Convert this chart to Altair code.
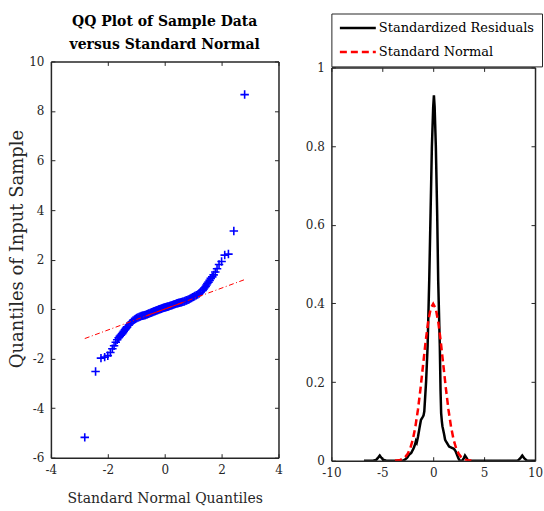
import altair as alt
import pandas as pd

# ---------------- data ----------------
qq_theoretical = [
    -2.81, -2.43, -2.24, -2.11, -2.00, -1.91, -1.84, -1.78, -1.72, -1.67,
    -1.62, -1.58, -1.54, -1.50, -1.47, -1.44, -1.40, -1.37, -1.34, -1.32,
    -1.26, -1.21, -1.16, -1.11, -1.06, -1.02,
    -0.98, -0.94, -0.90, -0.86, -0.82,
    -0.78, -0.75, -0.71, -0.68, -0.64, -0.61, -0.58, -0.55,
    -0.51, -0.48, -0.45, -0.42, -0.39, -0.36, -0.33,
    -0.30, -0.27, -0.24, -0.21, -0.18, -0.15, -0.12, -0.09, -0.06, -0.03,
    0.00,
    0.03, 0.06, 0.09, 0.12, 0.15, 0.18, 0.21, 0.24, 0.27, 0.30,
    0.33, 0.36, 0.39, 0.42, 0.45, 0.48, 0.51,
    0.55, 0.58, 0.61, 0.64, 0.68, 0.71, 0.75, 0.78,
    0.82, 0.86, 0.90, 0.94, 0.98,
    1.02, 1.06, 1.11, 1.16, 1.21, 1.26,
    1.32, 1.34, 1.37, 1.40, 1.44, 1.47, 1.50, 1.54, 1.58, 1.62,
    1.67, 1.72, 1.78, 1.84, 1.91, 2.00, 2.11, 2.24, 2.43, 2.81,
]
qq_sample = [
    -5.18, -2.52, -1.98, -1.94, -1.88, -1.75, -1.60, -1.48, -1.34, -1.24,
    -1.16, -1.10, -1.05, -1.00, -0.95, -0.90, -0.84, -0.79, -0.75, -0.72,
    -0.64, -0.57, -0.51, -0.46, -0.42, -0.39,
    -0.36, -0.34, -0.32, -0.30, -0.28,
    -0.27, -0.26, -0.25, -0.24, -0.22, -0.21, -0.19, -0.18,
    -0.16, -0.15, -0.13, -0.12, -0.10, -0.09, -0.08,
    -0.06, -0.05, -0.04, -0.02, -0.01, 0.00, 0.01, 0.03, 0.04, 0.05,
    0.06,
    0.07, 0.08, 0.09, 0.10, 0.11, 0.13, 0.14, 0.15, 0.16, 0.18,
    0.19, 0.20, 0.21, 0.23, 0.24, 0.25, 0.26,
    0.27, 0.28, 0.29, 0.30, 0.31, 0.33, 0.35, 0.36,
    0.38, 0.40, 0.43, 0.45, 0.48,
    0.50, 0.53, 0.56, 0.59, 0.63, 0.68,
    0.74, 0.77, 0.81, 0.86, 0.91, 0.97, 1.03, 1.09, 1.16, 1.24,
    1.30, 1.38, 1.50, 1.63, 1.80, 1.92, 2.18, 2.22, 3.15, 8.66,
]
ref_x = [-2.81, 2.81]
ref_y = [-1.19, 1.19]
quart_x = [-0.67, 0.67]
quart_y = [-0.28, 0.28]

kde_x = [-6.8, -5.9, -5.6, -5.4, -5.25, -5.1, -4.9, -4.6, -3.0, -2.75,
         -2.55, -2.37, -2.15, -1.95, -1.8, -1.7, -1.62, -1.5, -1.4, -1.3,
         -1.2, -1.05, -0.95, -0.876, -0.7, -0.55, -0.39, -0.26, -0.13, 0.0,
         0.07, 0.14, 0.26, 0.39, 0.49, 0.65, 0.72, 0.78, 0.85, 0.91,
         1.05, 1.17, 1.35, 1.56, 1.8, 2.04, 2.2, 2.46, 2.6, 2.85,
         3.0, 3.12, 3.25, 3.44, 3.7, 8.3, 8.55, 8.75, 8.95, 9.2, 10.0]
kde_y = [0.0, 0.0, 0.002, 0.008, 0.013, 0.008, 0.002, 0.0, 0.0, 0.003,
         0.008, 0.015, 0.02, 0.03, 0.04, 0.05, 0.046, 0.06, 0.075, 0.09,
         0.104, 0.11, 0.115, 0.125, 0.2, 0.29, 0.459, 0.628, 0.798, 0.9,
         0.929, 0.9, 0.798, 0.628, 0.459, 0.29, 0.18, 0.121, 0.1, 0.087,
         0.07, 0.053, 0.045, 0.036, 0.033, 0.03, 0.024, 0.007, 0.0, 0.0,
         0.006, 0.013, 0.008, 0.0, 0.0, 0.0, 0.006, 0.013, 0.006, 0.0, 0.0]

norm_x = [-3.75, -3.5, -3.25, -3.0, -2.75, -2.5, -2.25, -2.0, -1.75, -1.5,
          -1.25, -1.0, -0.75, -0.5, -0.25, 0.0, 0.25, 0.5, 0.75, 1.0,
          1.25, 1.5, 1.75, 2.0, 2.25, 2.5, 2.75, 3.0, 3.25, 3.5, 3.75]
norm_y = [0.0004, 0.0009, 0.0020, 0.0044, 0.0091, 0.0175, 0.0317, 0.0540, 0.0863, 0.1295,
          0.1826, 0.2420, 0.3011, 0.3521, 0.3867, 0.3989, 0.3867, 0.3521, 0.3011, 0.2420,
          0.1826, 0.1295, 0.0863, 0.0540, 0.0317, 0.0175, 0.0091, 0.0044, 0.0020, 0.0009, 0.0004]

series_names = ["Standardized Residuals", "Standard Normal"]
x1_ticks = [-4, -2, 0, 2, 4]
y1_ticks = [-6, -4, -2, 0, 2, 4, 6, 8, 10]
x2_ticks = [-10, -5, 0, 5, 10]
y2_ticks = [0, 0.2, 0.4, 0.6, 0.8, 1]

# ---------------- styling ----------------
FONT = "DejaVu Serif"
AX = "#262626"
W1, H1 = 228, 397
W2, H2 = 204, 400   # right view; its y range leaves a 6px strip at the top
TOP2 = 6


def main_axis(title, vals, orient, **kw):
    return alt.Axis(orient=orient, title=title, values=vals, ticks=False, domain=True,
                    domainColor=AX, domainWidth=1.5,
                    grid=False, labelFont=FONT, labelFontSize=12, labelColor=AX,
                    labelPadding=7, labelExpr="'' + datum.value", labelFlush=False,
                    labelOverlap=False,
                    titleFont=FONT, titleFontWeight="normal", titleColor=AX, **kw)


def tick_axis(orient, offset, vals, domain):
    return alt.Axis(orient=orient, offset=offset, values=vals, labels=False, ticks=True,
                    tickSize=4, tickColor=AX, tickWidth=1, domain=domain,
                    domainColor=AX, domainWidth=1.5, grid=False, title=None)


# ---------------- left: QQ plot ----------------
xs1 = alt.Scale(domain=[-4, 4], nice=False, zero=False)
ys1 = alt.Scale(domain=[-6, 10], nice=False, zero=False)
qq_df = pd.DataFrame({"x": qq_theoretical, "y": qq_sample})
ref_df = pd.DataFrame({"x": ref_x, "y": ref_y})
quart_df = pd.DataFrame({"x": quart_x, "y": quart_y})

x1_axis = main_axis("Standard Normal Quantiles", x1_ticks, "bottom",
                    titleFontSize=14, titleX=W1 / 2, titleY=40.5,
                    titleBaseline="middle", titleAlign="center")
y1_axis = main_axis("Quantiles of Input Sample", y1_ticks, "left",
                    titleFontSize=18, titleX=-33.5, titleY=187.5, titleAngle=270,
                    titleBaseline="middle", titleAlign="center")

pts = alt.Chart(qq_df).mark_point(
    shape="M-1,0L1,0M0,-1L0,1", size=72, filled=False, color="#0000ff",
    strokeWidth=1.6, opacity=1
).encode(
    x=alt.X("x:Q", scale=xs1, axis=x1_axis),
    y=alt.Y("y:Q", scale=ys1, axis=y1_axis),
)
ref = alt.Chart(ref_df).mark_line(color="#ff0000", strokeWidth=1, strokeDash=[5, 2.5, 1, 2.5]).encode(
    x=alt.X("x:Q", scale=xs1, axis=None), y=alt.Y("y:Q", scale=ys1, axis=None))
quart = alt.Chart(quart_df).mark_line(color="#ff0000", strokeWidth=1).encode(
    x=alt.X("x:Q", scale=xs1, axis=None), y=alt.Y("y:Q", scale=ys1, axis=None))
tk1 = alt.Chart(quart_df).mark_point(opacity=0).encode(
    x=alt.X("x:Q", scale=xs1, axis=tick_axis("top", -H1, x1_ticks, False)),
    y=alt.Y("y:Q", scale=ys1, axis=tick_axis("right", -W1, y1_ticks, False)))
tk2 = alt.Chart(quart_df).mark_point(opacity=0).encode(
    x=alt.X("x:Q", scale=xs1, axis=tick_axis("bottom", -H1, x1_ticks, True)),
    y=alt.Y("y:Q", scale=ys1, axis=tick_axis("left", -W1, y1_ticks, True)))

left = alt.layer(pts, ref, quart, tk1, tk2).resolve_scale(
    x="independent", y="independent"
).properties(
    width=W1, height=H1,
    title=alt.TitleParams(["QQ Plot of Sample Data", "versus Standard Normal"],
                          font=FONT, fontSize=14, fontWeight="bold", color="#000000",
                          anchor="middle", frame="group", offset=3, lineHeight=23),
)

# ---------------- right: densities ----------------
xs2 = alt.Scale(domain=[-10, 10], nice=False, zero=False)
ys2 = alt.Scale(domain=[0, 1], nice=False, zero=False, range=[H2, TOP2])
dens_df = pd.concat([
    pd.DataFrame({"series": series_names[0], "x": kde_x, "y": kde_y}),
    pd.DataFrame({"series": series_names[1], "x": norm_x, "y": norm_y}),
], ignore_index=True)

leg = alt.Legend(orient="none", legendX=0, legendY=-48, direction="vertical", title=None,
                 strokeColor=AX, fillColor="#ffffff", padding=7, cornerRadius=0,
                 symbolType="M-1,0L5,0", symbolSize=144, symbolStrokeWidth=2.5,
                 labelFont=FONT, labelFontSize=13, labelColor="#000000",
                 labelOffset=25.5, rowPadding=9, labelLimit=300)

lines = alt.Chart(dens_df).mark_line(strokeWidth=2.5, clip=True).encode(
    x=alt.X("x:Q", scale=xs2, axis=main_axis(None, x2_ticks, "bottom")),
    y=alt.Y("y:Q", scale=ys2, axis=main_axis(None, y2_ticks, "left")),
    color=alt.Color("series:N", scale=alt.Scale(domain=series_names, range=["#000000", "#ff0000"]), legend=leg),
    strokeDash=alt.StrokeDash("series:N", scale=alt.Scale(domain=series_names, range=[[1, 0], [7, 4]]), legend=leg),
)
tk3 = alt.Chart(quart_df).mark_point(opacity=0).encode(
    x=alt.X("x:Q", scale=xs2, axis=tick_axis("top", -H2, x2_ticks, False)),
    y=alt.Y("y:Q", scale=ys2, axis=tick_axis("right", -W2, y2_ticks, False)))
tk4 = alt.Chart(quart_df).mark_point(opacity=0).encode(
    x=alt.X("x:Q", scale=xs2, axis=tick_axis("bottom", -(H2 - TOP2), x2_ticks, True)),
    y=alt.Y("y:Q", scale=ys2, axis=tick_axis("left", -W2, y2_ticks, True)))

right = alt.layer(lines, tk3, tk4).resolve_scale(
    x="independent", y="independent"
).properties(width=W2, height=H2)

chart = alt.hconcat(left, right, spacing=21).resolve_legend(
    color="independent", strokeDash="independent"
).properties(
    padding={"left": 7, "top": 12, "right": 0, "bottom": 0},
    background="#ffffff",
).configure_view(stroke="transparent")

chart.save("out.html", embed_options={"renderer": "svg", "actions": False})
